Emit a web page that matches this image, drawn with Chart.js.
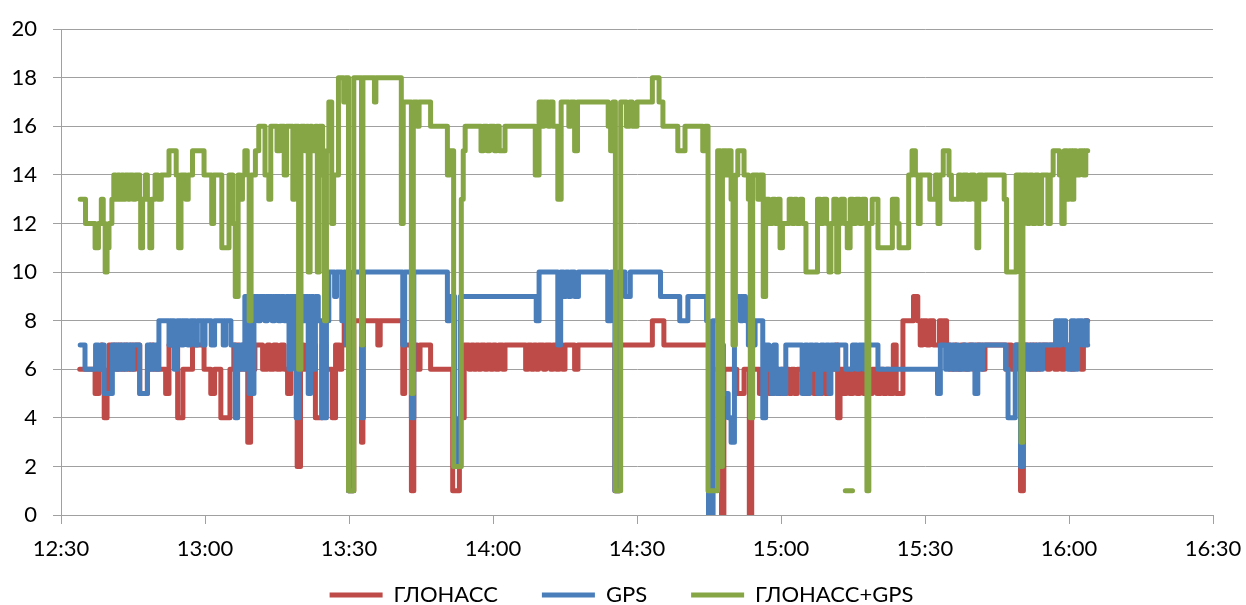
<!DOCTYPE html>
<html>
<head>
<meta charset="utf-8">
<script src="https://cdn.jsdelivr.net/npm/chart.js@4/dist/chart.umd.min.js"></script>
<style>
    html, body { margin: 0; padding: 0; background: #fff; }
</style>
</head>
<body>
<canvas id="satChart" width="1246" height="605"></canvas>
<script>
// x = minutes after 12:30, y = number of satellites (each value holds until the next point)
const timeLabels = ['12:30', '13:00', '13:30', '14:00', '14:30', '15:00', '15:30', '16:00', '16:30'];

const glonass = [
    [3.9,6],[7.1,5],[7.9,6],[8.3,7],[8.6,6],[9.0,4],[9.6,5],[10.0,7],[10.6,6],[11.0,7],[11.5,6],[12.0,7],[12.6,6],[13.2,7],[13.8,6],[14.4,7],[15.0,6],[15.5,7],[16.4,5],[18.0,6],[18.6,7],[19.2,6],[21.8,5],[22.5,7],[24.3,4],[25.4,6],[27.4,7],[29.8,6],[31.2,5],[32.0,6],[33.3,4],[35.2,6],[36.0,7],[37.0,6],[37.8,7],[38.4,6],[38.9,3],[39.5,6],[40.4,7],[42.0,6],[43.0,7],[43.5,6],[44.3,7],[45.0,6],[45.8,7],[46.5,6],[47.2,5],[47.9,7],[49.2,2],[49.9,7],[50.6,6],[51.2,7],[52.0,6],[52.5,7],[53.0,4],[54.4,7],[55.2,6],[56.5,4],[57.2,7],[58.0,6],[58.5,7],[59.0,8],[59.9,1],[60.8,1],[61.0,8],[62.6,3],[62.9,8],[66.0,7],[66.5,8],[71.2,5],[71.6,7],[73.0,1],[73.5,7],[74.2,6],[74.8,7],[77.0,6],[81.6,1],[83.0,4],[84.0,7],[85.0,6],[85.5,7],[86.0,6],[86.5,7],[87.0,6],[87.5,7],[88.3,6],[88.8,7],[89.5,6],[90.0,7],[90.6,6],[91.2,7],[92.0,6],[92.5,7],[96.8,6],[97.3,7],[98.0,6],[98.5,7],[99.0,6],[99.5,7],[100.5,6],[101.0,7],[102.0,6],[102.5,7],[103.2,6],[103.8,7],[104.5,6],[105.0,7],[107.0,6],[107.7,7],[115.4,1],[116.3,7],[123.2,8],[125.6,7],[134.9,0],[135.8,6],[137.6,0],[138.1,6],[140.8,5],[142.3,6],[143.4,0],[143.9,6],[145.5,5],[146.0,6],[147.5,5],[148.5,6],[149.5,5],[150.0,6],[150.6,5],[151.2,6],[151.7,5],[152.2,6],[152.8,5],[153.4,6],[155.2,5],[155.8,6],[156.8,5],[157.4,6],[158.0,5],[158.6,6],[159.2,5],[159.8,6],[161.4,7],[161.8,4],[162.3,6],[163.0,5],[163.6,6],[164.3,5],[165.0,6],[165.8,5],[166.4,6],[167.2,5],[167.8,6],[168.4,5],[169.0,6],[170.0,5],[170.8,6],[171.3,5],[172.0,6],[172.5,5],[173.4,7],[174.0,5],[175.4,8],[177.6,9],[178.5,8],[179.0,7],[179.5,8],[180.4,7],[181.0,8],[181.8,7],[183.0,8],[183.5,7],[184.0,8],[184.5,7],[185.2,6],[186.0,7],[186.5,6],[187.5,7],[188.3,6],[189.0,7],[190.0,6],[190.6,7],[192.0,6],[192.5,7],[196.8,6],[197.3,7],[198.0,6],[199.0,7],[199.9,1],[200.5,7],[202.0,6],[202.5,7],[203.2,6],[203.8,7],[205.5,6],[206.0,7],[207.0,6],[207.7,7],[208.5,6],[209.0,7],[210.5,6],[211.0,7],[212.5,6],[213.0,7],[213.5,8],[213.9,8]
];

const gps = [
    [4.0,7],[5.0,6],[7.2,7],[7.8,6],[8.5,7],[9.0,5],[10.7,7],[11.2,6],[11.6,7],[12.0,6],[12.5,7],[13.2,6],[13.6,7],[14.5,6],[15.0,7],[16.4,5],[18.0,7],[18.6,6],[19.2,7],[19.8,6],[20.4,8],[22.5,7],[23.0,8],[23.6,6],[24.2,8],[25.0,7],[25.5,8],[26.4,7],[27.0,8],[28.0,7],[28.4,8],[29.5,7],[30.0,8],[31.3,7],[32.0,8],[33.8,7],[34.3,8],[35.4,7],[36.3,4],[36.8,6],[37.3,7],[38.0,6],[38.3,9],[39.2,5],[40.2,9],[41.0,8],[41.5,9],[42.5,8],[43.0,9],[44.0,8],[44.5,9],[45.3,8],[45.8,9],[46.5,8],[46.9,9],[47.5,6],[48.0,9],[49.0,4],[49.6,9],[50.3,8],[50.8,9],[51.5,5],[52.0,9],[52.6,6],[53.0,9],[53.6,8],[54.3,4],[55.3,8],[55.8,10],[57.0,9],[57.4,10],[58.5,8],[59.0,10],[59.5,7],[59.9,1],[60.8,10],[62.6,4],[63.0,10],[71.2,7],[71.6,10],[73.0,4],[73.5,10],[80.5,8],[81.0,9],[82.0,2],[83.2,9],[99.0,8],[99.6,10],[103.5,7],[104.1,10],[104.7,9],[105.2,10],[105.7,9],[106.2,10],[107.0,9],[107.8,10],[113.9,8],[114.6,10],[115.4,1],[116.3,10],[117.5,9],[118.6,10],[124.9,9],[128.9,8],[130.6,9],[134.5,8],[134.9,0],[135.8,8],[137.0,7],[138.0,5],[139.0,4],[139.6,3],[140.3,9],[141.5,8],[142.0,9],[142.6,8],[143.2,7],[143.7,8],[144.2,7],[144.6,8],[146.2,4],[146.8,7],[147.5,6],[148.0,5],[148.5,7],[149.0,5],[149.6,6],[150.3,5],[151.0,7],[154.4,5],[155.0,7],[155.5,5],[156.0,7],[156.6,6],[157.1,7],[157.6,5],[158.3,7],[158.9,6],[159.4,7],[160.0,5],[160.4,7],[161.3,6],[161.8,7],[163.5,6],[164.9,7],[165.8,6],[166.3,7],[167.3,6],[167.8,7],[170.2,6],[182.6,5],[183.2,7],[184.3,6],[185.0,7],[185.8,6],[186.4,7],[187.0,6],[188.0,7],[188.6,6],[189.4,7],[190.4,5],[191.0,7],[191.5,6],[192.0,7],[196.9,6],[197.3,4],[198.8,7],[199.9,2],[200.4,7],[201.3,6],[202.0,7],[202.6,6],[203.2,7],[204.0,6],[204.5,7],[207.2,8],[207.8,7],[208.3,8],[209.3,7],[209.8,6],[210.5,8],[211.2,6],[211.8,8],[212.8,7],[213.2,8],[213.8,7],[213.9,7]
];

const combined = [
    [4.0,13],[5.1,12],[7.1,11],[7.8,12],[8.4,13],[8.8,12],[9.2,10],[9.6,11],[10.0,12],[10.6,13],[11.0,14],[11.4,13],[11.8,14],[12.2,13],[12.6,14],[13.0,13],[13.4,14],[14.0,13],[14.3,14],[15.0,13],[15.5,14],[16.4,13],[16.6,11],[17.0,13],[17.6,14],[18.0,13],[18.5,11],[18.9,13],[19.6,14],[20.2,13],[20.9,14],[22.5,15],[24.0,14],[24.5,11],[25.0,14],[26.0,13],[26.5,14],[27.4,15],[29.8,14],[31.4,12],[31.8,14],[33.5,11],[35.0,14],[35.8,12],[36.3,9],[36.9,14],
    [37.3,13],[37.8,14],[38.3,15],[38.8,14],[39.2,8],[39.6,14],[40.5,15],[41.2,16],[42.5,14],[43.3,13],[43.7,16],[45.0,15],[45.6,16],[46.5,14],[47.0,16],[48.3,13],[48.7,16],[49.5,6],[50.0,16],[50.8,15],[51.2,16],[51.5,10],[51.9,16],[52.3,15],[53.0,16],[53.4,10],[53.8,16],[54.5,14],[54.9,8],[55.3,15],[55.8,17],[56.4,12],[56.8,14],[57.8,18],[58.9,17],[59.3,18],[59.9,1],[60.8,1],[61.0,18],[62.6,7],[62.9,18],[65.3,17],[65.6,18],[70.9,12],[71.3,17],
    [73.0,5],[73.4,17],[74.2,16],[74.6,17],[77.0,16],[80.5,14],[81.0,15],[81.8,2],[83.0,2],[83.4,13],[83.8,15],[84.2,16],[87.5,15],[88.0,16],[88.8,15],[89.3,16],[90.3,15],[90.8,16],[91.3,15],[92.5,16],[98.8,14],[99.6,17],[100.3,16],[100.6,17],[101.5,16],[101.9,17],[102.5,16],[103.5,13],[104.2,17],[105.8,16],[106.2,17],[107.0,15],[107.6,17],
    [114.0,16],[114.5,15],[115.0,17],[115.5,1],[116.6,17],[117.8,16],[118.5,17],[119.0,16],[120.0,17],[123.2,18],[124.6,17],[125.4,16],[128.5,15],[130.0,16],[133.7,15],[134.2,16],[134.8,1],[135.8,1],[136.8,15],[137.4,2],[137.8,15],[138.5,14],[139.0,15],[139.6,13],[140.0,7],[140.5,14],[141.0,15],
    [142.3,14],[143.2,13],[143.6,4],[144.1,14],[145.2,13],[145.6,14],[146.3,9],[146.8,13],[147.5,12],[148.2,13],[148.8,12],[149.3,13],[149.8,11],[150.3,12],[151.7,13],[152.3,12],[152.8,13],[153.3,12],[154.0,13],[154.5,12],[155.2,10],[157.2,10],[157.6,13],[158.2,12],[158.8,13],[159.5,12],[160.0,10],[160.4,12],[161.0,13],[161.6,10],[162.0,12],[162.5,13],[163.2,12],[163.8,11],[164.4,13],[165.0,12],[165.6,13],[166.4,12],[166.9,13],[167.6,12],[167.9,1],[168.3,12],[169.0,13],[170.2,11],[173.2,13],[174.2,12],[174.6,11],
    [176.6,14],[177.3,15],[178.0,14],[178.6,12],[179.0,14],[181.0,13],[182.2,14],[182.7,12],[183.1,14],[183.8,15],[185.0,14],[185.5,13],[187.0,14],[187.5,13],[188.0,14],[188.8,13],[189.5,14],[190.3,13],[190.8,11],[191.2,14],[192.0,13],[192.5,14],[196.5,13],[197.0,10],[198.6,10],[199.0,14],[200.0,3],[200.4,14],[201.3,12],[201.8,14],[202.4,12],[203.0,14],[203.6,12],[204.3,14],[205.6,12],[206.1,14],[206.7,15],[208.0,14],[208.5,12],[209.0,15],[209.6,13],[210.0,15],[210.5,13],[211.0,15],[211.5,14],[212.2,15],[213.0,14],[213.5,15],[213.9,15]
];

// stray separate point of the combined series near 15:14
const combinedDot = [[163.4,1],[164.9,1]];

const seriesColors = { glonass: '#BE4B48', gps: '#4A7EBB', combined: '#86A544' };

function toPoints(list) {
    return list.map(p => ({ x: p[0], y: p[1] }));
}

function lineSet(label, list, color, order) {
    return {
        label: label,
        data: toPoints(list),
        borderColor: color,
        backgroundColor: color,
        borderWidth: 5,
        borderCapStyle: 'round',
        borderJoinStyle: 'round',
        stepped: true,
        pointRadius: 0,
        fill: false,
        order: order
    };
}

const axisFont = { family: 'Lato', size: 22 };
const gridColor = '#A0A0A0';

const dotSet = lineSet('', combinedDot, seriesColors.combined, 1);
dotSet.stepped = false;

// the legend keeps wide gaps between items (labels.padding) but sits close under the axis
const legendLift = {
    id: 'legendLift',
    afterLayout(chart) {
        chart.legend.top -= 23;
    }
};

new Chart(document.getElementById('satChart').getContext('2d'), {
    type: 'line',
    data: {
        datasets: [
            lineSet('ГЛОНАСС', glonass, seriesColors.glonass, 3),
            lineSet('GPS', gps, seriesColors.gps, 2),
            lineSet('ГЛОНАСС+GPS', combined, seriesColors.combined, 1),
            dotSet
        ]
    },
    plugins: [legendLift],
    options: {
        responsive: false,
        animation: false,
        layout: { padding: { left: 0, right: 3, top: 22, bottom: 0 } },
        plugins: {
            tooltip: { enabled: false },
            legend: {
                position: 'bottom',
                maxHeight: 42,
                labels: {
                    usePointStyle: true,
                    pointStyle: 'line',
                    pointStyleWidth: 53,
                    boxHeight: 22,
                    padding: 44,
                    color: '#000',
                    font: axisFont,
                    filter: item => item.datasetIndex < 3,
                    sort: (a, b) => a.datasetIndex - b.datasetIndex
                }
            }
        },
        scales: {
            x: {
                type: 'linear',
                min: 0,
                max: 240,
                afterFit: scale => { scale.height = 48; scale.paddingRight = 33; },
                grid: { drawOnChartArea: false, drawTicks: true, tickLength: 9, color: gridColor },
                border: { color: gridColor },
                ticks: {
                    stepSize: 30,
                    padding: 12,
                    maxRotation: 0,
                    autoSkip: false,
                    color: '#000',
                    font: axisFont,
                    callback: v => timeLabels[Math.round(v / 30)]
                }
            },
            y: {
                min: 0,
                max: 20,
                afterFit: scale => { scale.width = 61; },
                grid: { color: gridColor, tickLength: 8 },
                border: { color: gridColor },
                ticks: { stepSize: 2, padding: 16, color: '#000', font: axisFont }
            }
        }
    }
});
</script>
</body>
</html>
